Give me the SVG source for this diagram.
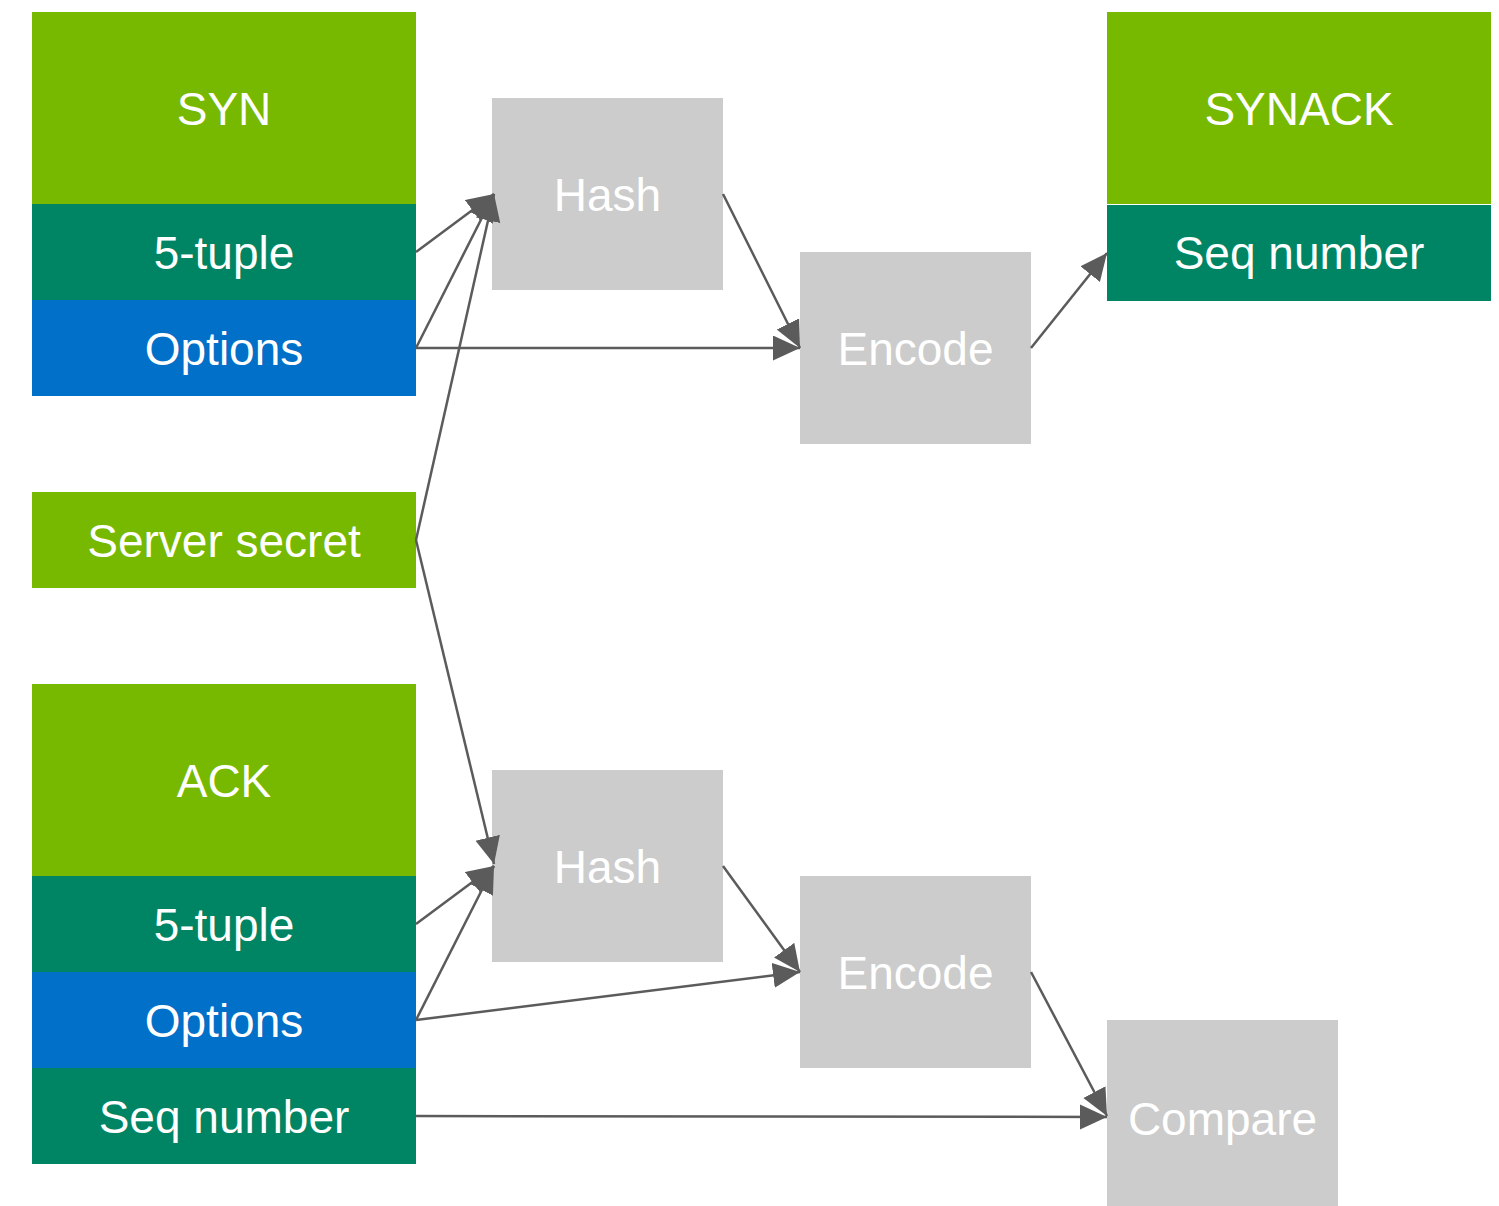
<svg xmlns="http://www.w3.org/2000/svg" width="1499" height="1206" viewBox="0 0 1499 1206">
<style>
.g{fill:#76b900}.t{fill:#008564}.b{fill:#0070c8}.k{fill:#cccccc}
text{font-family:"Liberation Sans",Arial,sans-serif;font-size:46px;fill:#ffffff;text-anchor:middle}
.c line{stroke:#5b5b5b;stroke-width:2.5;marker-end:url(#ah)}
</style>
<defs>
<marker id="ah" markerUnits="userSpaceOnUse" markerWidth="28" markerHeight="26" refX="27" refY="12.5" orient="auto" viewBox="0 0 28 26">
<path d="M0,0 L27,12.5 L0,25 Z" fill="#5b5b5b"/>
</marker>
</defs>
<rect width="1499" height="1206" fill="#ffffff"/>
<g id="syn">
<rect class="g" x="32" y="12" width="384" height="192"/><text x="224" y="125">SYN</text>
<rect class="t" x="32" y="204" width="384" height="96"/><text x="224" y="269">5-tuple</text>
<rect class="b" x="32" y="300" width="384" height="96"/><text x="224" y="365">Options</text>
</g>
<g id="server-secret">
<rect class="g" x="32" y="492" width="384" height="96"/><text x="224" y="557">Server secret</text>
</g>
<g id="ack">
<rect class="g" x="32" y="684" width="384" height="192"/><text x="224" y="797">ACK</text>
<rect class="t" x="32" y="876" width="384" height="96"/><text x="224" y="941">5-tuple</text>
<rect class="b" x="32" y="972" width="384" height="96"/><text x="224" y="1037">Options</text>
<rect class="t" x="32" y="1068" width="384" height="96"/><text x="224" y="1133">Seq number</text>
</g>
<g id="hash1"><rect class="k" x="492" y="98" width="231" height="192"/><text x="607.5" y="211">Hash</text></g>
<g id="encode1"><rect class="k" x="800" y="252" width="231" height="192"/><text x="915.5" y="365">Encode</text></g>
<g id="synack">
<rect class="g" x="1107" y="12" width="384" height="192"/><text x="1299" y="125">SYNACK</text>
<rect class="t" x="1107" y="205" width="384" height="96"/><text x="1299" y="269">Seq number</text>
</g>
<g id="hash2"><rect class="k" x="492" y="770" width="231" height="192"/><text x="607.5" y="883">Hash</text></g>
<g id="encode2"><rect class="k" x="800" y="876" width="231" height="192"/><text x="915.5" y="989">Encode</text></g>
<g id="compare"><rect class="k" x="1107" y="1020" width="231" height="192"/><text x="1222.5" y="1135">Compare</text></g>
<g id="connectors" class="c">
<line x1="416" y1="252" x2="494" y2="194"/>
<line x1="416" y1="348" x2="494" y2="194"/>
<line x1="416" y1="540" x2="494" y2="194"/>
<line x1="416" y1="348" x2="800" y2="348"/>
<line x1="723" y1="194" x2="800" y2="348"/>
<line x1="1031" y1="348" x2="1107" y2="253"/>
<line x1="416" y1="540" x2="494" y2="864"/>
<line x1="416" y1="924" x2="494" y2="866"/>
<line x1="416" y1="1020" x2="494" y2="866"/>
<line x1="416" y1="1020" x2="800" y2="972"/>
<line x1="723" y1="866" x2="800" y2="972"/>
<line x1="1031" y1="972" x2="1107" y2="1116"/>
<line x1="416" y1="1116" x2="1107" y2="1117"/>
</g>
</svg>
